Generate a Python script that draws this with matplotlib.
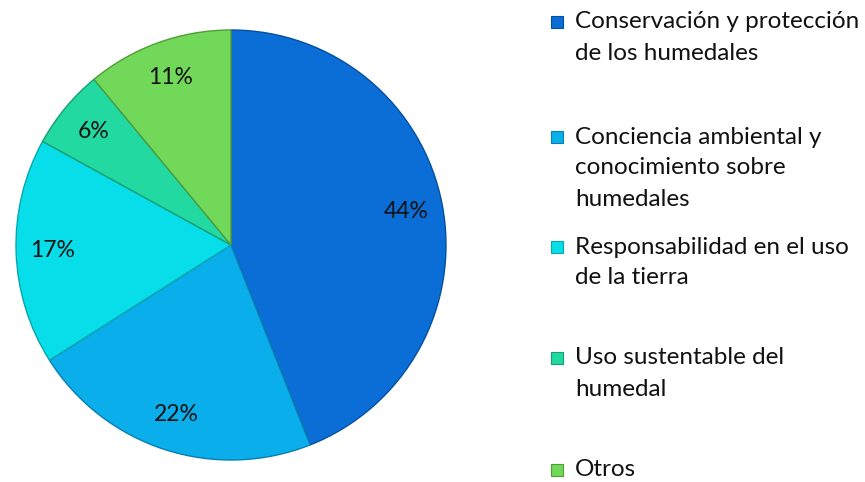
import matplotlib
matplotlib.use("Agg")
import matplotlib.pyplot as plt
from matplotlib.patches import Rectangle

categories = [
    "Conservación y protección\nde los humedales",
    "Conciencia ambiental y\nconocimiento sobre\nhumedales",
    "Responsabilidad en el uso\nde la tierra",
    "Uso sustentable del\nhumedal",
    "Otros",
]
values = [44, 22, 17, 6, 11]
colors = ["#0A6ED6", "#0AAEEA", "#08DDEA", "#22D9A2", "#72D85A"]
edge_colors = ["#0550A0", "#0780B0", "#06A8B0", "#16A070", "#4E9E38"]

W, H = 865, 482
fig = plt.figure(figsize=(W / 100, H / 100), dpi=100)
plt.rcParams['font.family'] = ['Lato', 'DejaVu Sans']

cx, cy, r = 231, 245, 215
ax = fig.add_axes([(cx - r) / W, 1 - (cy + r) / H, 2 * r / W, 2 * r / H])
wedges, texts, autotexts = ax.pie(
    values, colors=colors, startangle=90, counterclock=False,
    autopct=lambda p: f"{p:.0f}%", pctdistance=0.83,
    wedgeprops=dict(linewidth=1.0),
    textprops=dict(fontsize=16.5, color="#111111"),
)
for w, ec in zip(wedges, edge_colors):
    w.set_edgecolor(ec)
ax.set_xlim(-1.0, 1.0)
ax.set_ylim(-1.0, 1.0)
ax.set_aspect("equal")
ax.axis("off")

# legend drawn manually
first_line_y = [22, 137, 247, 358, 470]
line_h = 31
for lab, col, ec, y in zip(categories, colors, edge_colors, first_line_y):
    s = 12
    fig.patches.append(Rectangle(((551) / W, 1 - (y + s / 2) / H), s / W, s / H,
                                 transform=fig.transFigure, facecolor=col,
                                 edgecolor=ec, linewidth=0.8))
    for i, line in enumerate(lab.split("\n")):
        fig.text(575 / W, 1 - (y + i * line_h) / H, line, fontsize=17.5,
                 va="center", ha="left", color="#111111")

fig.savefig("out.png", dpi=100)
